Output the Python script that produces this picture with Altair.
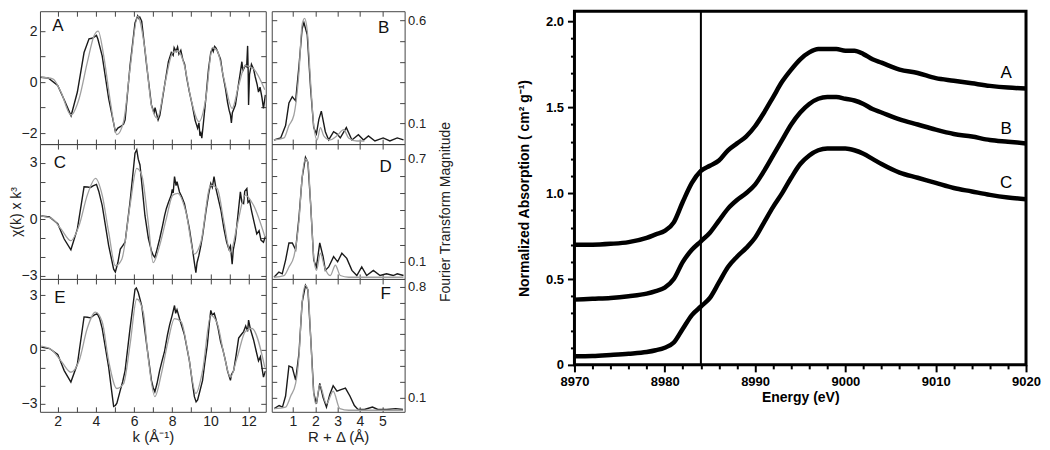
import altair as alt
import pandas as pd

FONT = "Liberation Sans"
BLACK = "#1a1a1a"
GRAY = "#a0a0a0"
FRAME = "#444444"

# ---------------- EXAFS k-space (k in 1/A, chi(k)*k^3) ----------------
A_data = [(1.1,0.19),(1.5,0.16),(2.0,-0.13),(2.35,-0.71),(2.7,-1.32),(3.03,-0.39),(3.38,1.16),(3.64,1.70),(3.8,1.72),(3.9,1.76),(4.03,1.83),(4.1,1.70),(4.33,1.03),(4.67,-0.65),(5.02,-1.94),(5.15,-1.80),(5.3,-1.74),(5.45,-1.65),(5.53,-1.48),(5.79,0.65),(6.05,2.32),(6.19,2.6),(6.25,2.5),(6.3,2.55),(6.4,2.39),(6.66,0.65),(6.91,-0.9),(7.05,-1.2),(7.1,-1.0),(7.26,-1.48),(7.35,-1.3),(7.6,-0.13),(7.8,0.8),(7.95,1.16),(8.05,1.05),(8.1,1.35),(8.2,1.2),(8.28,1.38),(8.35,1.1),(8.45,1.25),(8.55,0.9),(8.65,0.7),(8.75,0.2),(8.9,-0.39),(9.05,-0.9),(9.2,-1.5),(9.33,-1.81),(9.4,-1.6),(9.45,-2.1),(9.5,-2.0),(9.55,-2.2),(9.62,-1.7),(9.76,-0.65),(9.9,0.5),(10.02,1.16),(10.1,1.3),(10.15,1.2),(10.22,1.4),(10.28,1.35),(10.35,1.25),(10.45,1.05),(10.53,0.9),(10.65,0.3),(10.79,-0.26),(10.9,-0.8),(10.98,-1.1),(11.05,-1.29),(11.1,-1.6),(11.15,-1.2),(11.31,-0.9),(11.45,-0.2),(11.57,0.39),(11.65,0.8),(11.7,0.45),(11.83,0.65),(11.9,0.6),(11.95,1.42),(11.98,0.4),(12.0,-0.9),(12.05,0.3),(12.15,0.7),(12.26,0.52),(12.35,0.2),(12.45,-0.1),(12.52,-0.39),(12.6,-0.2),(12.7,-0.6),(12.78,-1.03),(12.88,-0.5)]
A_fit = [(1.14,0.19),(1.74,0.13),(2.17,-0.39),(2.69,-1.29),(3.12,-0.65),(3.55,0.77),(3.9,1.81),(4.12,2.0),(4.41,1.03),(4.76,-0.77),(5.1,-2.06),(5.45,-1.55),(5.79,0.52),(6.19,2.58),(6.57,1.29),(6.91,-0.9),(7.22,-1.42),(7.6,-0.13),(8.03,1.16),(8.29,1.23),(8.64,0.65),(8.98,-0.65),(9.41,-1.55),(9.76,-0.65),(10.1,1.35),(10.36,1.23),(10.71,0.13),(11.14,-1.03),(11.48,-0.13),(11.83,0.65),(12.26,0.52),(12.85,-0.3)]

C_data = [(1.14,0.18),(1.57,0.13),(2.0,-0.23),(2.34,-1.04),(2.69,-1.61),(3.03,-0.5),(3.38,1.73),(3.55,1.72),(3.72,1.70),(3.85,1.78),(4.03,1.86),(4.15,1.5),(4.33,0.75),(4.67,-1.39),(4.93,-2.64),(5.02,-2.79),(5.15,-2.3),(5.28,-1.57),(5.4,-1.4),(5.53,-1.21),(5.79,0.93),(6.05,3.52),(6.14,3.7),(6.22,3.2),(6.31,2.89),(6.57,0.21),(6.75,-1.0),(6.91,-1.66),(7.0,-1.9),(7.09,-2.02),(7.2,-1.6),(7.34,-1.04),(7.5,-0.3),(7.6,0.2),(7.69,0.57),(7.8,0.9),(7.95,1.29),(8.0,1.6),(8.05,1.4),(8.12,2.27),(8.2,1.8),(8.25,2.0),(8.38,1.46),(8.5,1.2),(8.64,0.84),(8.75,0.3),(8.9,-0.5),(9.05,-1.5),(9.16,-2.29),(9.24,-2.82),(9.3,-2.3),(9.4,-1.9),(9.5,-1.39),(9.6,-0.8),(9.76,0.39),(9.9,1.3),(10.02,1.91),(10.1,1.7),(10.19,2.27),(10.3,1.6),(10.45,0.93),(10.55,0.5),(10.71,-0.5),(10.85,-1.2),(10.97,-1.57),(11.05,-1.4),(11.14,-2.38),(11.2,-1.6),(11.31,-1.04),(11.45,0.3),(11.57,1.46),(11.65,0.9),(11.74,0.84),(11.8,1.5),(11.91,1.64),(11.97,0.9),(12.05,1.0),(12.17,0.39),(12.3,-0.2),(12.43,-0.77),(12.55,-0.6),(12.65,-1.1),(12.78,-1.21),(12.88,-0.9)]
C_fit = [(1.14,0.18),(1.66,0.07),(2.17,-0.5),(2.69,-1.13),(3.12,-0.32),(3.55,1.29),(3.98,2.18),(4.33,1.29),(4.67,-0.68),(5.02,-2.46),(5.36,-2.11),(5.79,0.75),(6.14,2.71),(6.4,2.36),(6.74,-0.14),(7.0,-2.29),(7.34,-1.39),(7.69,0.04),(8.03,1.29),(8.29,1.38),(8.72,0.39),(9.16,-1.84),(9.5,-1.21),(10.02,1.82),(10.36,1.64),(10.71,-0.14),(11.05,-1.75),(11.4,-0.32),(11.83,1.29),(12.26,0.75),(12.85,-0.9)]

E_data = [(1.14,0.13),(1.57,0.05),(2.0,-0.27),(2.34,-1.17),(2.69,-1.8),(3.03,-0.81),(3.38,1.8),(3.55,1.78),(3.72,1.75),(3.9,1.9),(4.07,1.98),(4.2,1.7),(4.33,1.17),(4.67,-0.99),(4.85,-2.5),(4.93,-3.15),(5.02,-3.1),(5.1,-2.97),(5.28,-2.25),(5.4,-1.8),(5.53,-1.17),(5.79,1.17),(6.05,3.33),(6.12,3.4),(6.22,3.15),(6.4,2.43),(6.66,0.27),(6.91,-1.71),(7.0,-2.1),(7.09,-2.34),(7.2,-1.9),(7.34,-1.17),(7.45,-0.7),(7.6,-0.09),(7.75,0.8),(7.86,1.35),(8.0,1.9),(8.12,2.43),(8.18,2.0),(8.25,2.2),(8.38,1.71),(8.5,1.3),(8.64,0.81),(8.75,0.2),(8.9,-0.63),(9.05,-1.8),(9.16,-2.61),(9.25,-2.9),(9.33,-2.79),(9.45,-2.3),(9.59,-1.71),(9.7,-0.8),(9.84,0.27),(9.95,1.5),(10.02,2.16),(10.1,1.9),(10.2,2.0),(10.28,1.71),(10.4,1.2),(10.53,0.45),(10.65,0.0),(10.79,-0.63),(10.9,-1.2),(11.05,-1.71),(11.1,-1.4),(11.22,-1.17),(11.35,-0.3),(11.48,0.63),(11.6,0.8),(11.74,0.99),(11.85,1.3),(11.95,1.0),(12.0,1.62),(12.1,1.1),(12.26,0.54),(12.4,-0.1),(12.52,-0.63),(12.62,-0.4),(12.7,-1.0),(12.78,-1.53),(12.88,-1.2)]
E_fit = [(1.14,0.18),(1.66,0.0),(2.17,-0.63),(2.69,-1.26),(3.12,-0.63),(3.55,1.17),(3.98,2.07),(4.33,1.53),(4.67,-0.63),(5.1,-2.16),(5.45,-1.89),(5.79,0.27),(6.14,2.79),(6.48,2.07),(6.74,-0.45),(7.09,-2.61),(7.43,-1.35),(7.78,0.45),(8.12,1.71),(8.47,1.53),(8.81,-0.09),(9.24,-2.43),(9.59,-1.17),(10.02,1.89),(10.36,1.44),(10.71,-0.27),(11.05,-1.53),(11.4,-0.45),(11.83,0.99),(12.17,1.17),(12.85,-0.99)]

# ---------------- Fourier transforms (R + delta in A, magnitude) ----------------
B_data = [(0.15,0.02),(0.45,0.03),(0.67,0.09),(0.82,0.20),(0.97,0.23),(1.12,0.21),(1.27,0.38),(1.41,0.56),(1.49,0.59),(1.64,0.53),(1.79,0.27),(1.93,0.08),(2.05,0.05),(2.16,0.12),(2.27,0.16),(2.45,0.06),(2.6,0.02),(2.82,0.06),(2.97,0.05),(3.12,0.03),(3.39,0.08),(3.64,0.02),(3.93,0.045),(4.16,0.02),(4.38,0.04),(4.67,0.015),(5.04,0.03),(5.34,0.015),(5.67,0.03),(5.95,0.02)]
B_fit = [(0.15,0.02),(0.6,0.03),(0.82,0.09),(1.04,0.14),(1.27,0.35),(1.41,0.58),(1.52,0.61),(1.64,0.55),(1.79,0.30),(1.93,0.09),(2.08,0.02),(2.23,0.08),(2.38,0.04),(2.67,0.02),(2.97,0.04),(3.27,0.07),(3.49,0.03),(3.86,0.015),(4.2,0.015)]

D_data = [(0.15,0.01),(0.37,0.04),(0.52,0.03),(0.67,0.11),(0.82,0.21),(0.97,0.21),(1.12,0.17),(1.27,0.36),(1.41,0.59),(1.56,0.71),(1.67,0.68),(1.79,0.44),(1.93,0.11),(2.05,0.07),(2.2,0.21),(2.35,0.13),(2.45,0.05),(2.6,0.07),(2.82,0.13),(3.0,0.10),(3.19,0.15),(3.41,0.12),(3.64,0.05),(3.86,0.02),(4.08,0.07),(4.3,0.02),(4.6,0.05),(4.9,0.02),(5.19,0.03),(5.49,0.02),(5.67,0.03),(5.95,0.02)]
D_fit = [(0.15,0.01),(0.6,0.02),(0.82,0.07),(1.04,0.13),(1.27,0.34),(1.41,0.59),(1.56,0.70),(1.67,0.68),(1.79,0.44),(1.93,0.13),(2.05,0.05),(2.23,0.15),(2.41,0.07),(2.67,0.02),(2.9,0.08),(3.12,0.02),(3.5,0.01),(4.0,0.01),(5.0,0.01),(5.95,0.01)]

F_data = [(0.16,0.03),(0.38,0.05),(0.53,0.04),(0.67,0.11),(0.82,0.30),(0.97,0.29),(1.12,0.21),(1.27,0.38),(1.41,0.70),(1.56,0.81),(1.67,0.78),(1.79,0.49),(1.93,0.13),(2.05,0.06),(2.2,0.19),(2.35,0.10),(2.5,0.04),(2.65,0.12),(2.8,0.175),(2.97,0.14),(3.15,0.15),(3.35,0.16),(3.55,0.11),(3.75,0.05),(3.9,0.027),(4.2,0.025),(4.56,0.04),(4.8,0.025),(5.2,0.025),(5.6,0.03),(5.93,0.025)]
F_fit = [(0.16,0.03),(0.67,0.04),(0.9,0.11),(1.12,0.19),(1.27,0.36),(1.41,0.70),(1.56,0.81),(1.67,0.78),(1.79,0.49),(1.93,0.13),(2.03,0.06),(2.2,0.18),(2.5,0.06),(2.8,0.14),(3.1,0.03),(3.5,0.02),(4.5,0.02),(5.93,0.02)]

# ---------------- XANES ----------------
XANES_E = [8970,8972,8974,8976,8978,8979,8980,8981,8982,8983,8984,8985,8986,8987,8988,8989,8990,8991,8992,8993,8994,8995,8996,8997,8998,8999,9000,9001,9002,9003,9004,9006,9008,9010,9012,9014,9016,9018,9020]
XANES_A = [0.70,0.70,0.705,0.715,0.74,0.76,0.78,0.83,0.95,1.06,1.13,1.16,1.19,1.25,1.29,1.33,1.39,1.47,1.56,1.65,1.72,1.78,1.82,1.84,1.84,1.84,1.83,1.83,1.81,1.78,1.76,1.72,1.70,1.67,1.655,1.64,1.625,1.615,1.61]
XANES_B = [0.38,0.385,0.39,0.40,0.415,0.43,0.45,0.50,0.60,0.67,0.72,0.77,0.84,0.91,0.96,1.00,1.05,1.13,1.22,1.31,1.40,1.47,1.52,1.55,1.56,1.56,1.55,1.54,1.52,1.49,1.47,1.43,1.40,1.37,1.345,1.33,1.31,1.30,1.29]
XANES_C = [0.05,0.052,0.058,0.065,0.075,0.085,0.10,0.13,0.21,0.29,0.34,0.39,0.48,0.57,0.63,0.68,0.74,0.83,0.92,1.00,1.09,1.17,1.22,1.25,1.26,1.26,1.26,1.25,1.23,1.20,1.17,1.12,1.09,1.06,1.03,1.01,0.99,0.975,0.965]
XANES_NAMES = ["A", "B", "C"]
XANES_LABEL_E = [9017.8, 9017.8, 9017.8]
XANES_LABEL_MU = [1.70, 1.375, 1.06]
EDGE_E = 8984
E_MAJOR = [8970, 8980, 8990, 9000, 9010, 9020]
E_MINOR = [8972,8974,8976,8978,8982,8984,8986,8988,8992,8994,8996,8998,9002,9004,9006,9008,9012,9014,9016,9018]
MU_MAJOR = [0, 0.5, 1.0, 1.5, 2.0]
MU_MINOR = [0.1,0.2,0.3,0.4,0.6,0.7,0.8,0.9,1.1,1.2,1.3,1.4,1.6,1.7,1.8,1.9]

K_TICKS = [1,2,3,4,5,6,7,8,9,10,11,12]
R_TICKS = [1,2,3,4,5]
T = 5  # inner tick length


def inner_axis(orient, values, labels=False, test=None, title=None, fmt=None,
               fsize=14, title_size=15, title_pad=4, title_angle=None, title_baseline=None):
    kw = dict(orient=orient, values=values, tickSize=T, offset=-T, domain=False,
              grid=False, tickColor=FRAME, tickWidth=1, labels=labels,
              labelFont=FONT, labelFontSize=fsize, labelColor="#222222",
              labelPadding=3, labelOverlap=False, labelFlush=False, title=title)
    if test:
        kw["labelExpr"] = f"({test}) ? datum.label : ''"
    if fmt:
        kw["format"] = fmt
    if title:
        kw.update(titleFont=FONT, titleFontSize=title_size, titleFontWeight="normal",
                  titleColor="#222222", titlePadding=title_pad)
        if title_angle is not None:
            kw["titleAngle"] = title_angle
        if title_baseline:
            kw["titleBaseline"] = title_baseline
    return alt.Axis(**kw)


def panel(data, fit, letter, xdom, ydom, xticks, yticks, w, h, letter_x, letter_y,
          x_labels=False, x_test=None, x_title=None,
          y_side="left", y_test=None, y_title=None, y_fmt=None, y_fsize=14, y_title_pad=-2):
    dd = pd.DataFrame(data, columns=["x", "y"])
    ff = pd.DataFrame(fit, columns=["x", "y"])
    xs = alt.Scale(domain=xdom, nice=False, zero=False)
    ys = alt.Scale(domain=ydom, nice=False, zero=False)
    other = "right" if y_side == "left" else "left"
    main = alt.Chart(dd).mark_line(color=BLACK, strokeWidth=1.4, clip=True).encode(
        x=alt.X("x:Q", scale=xs, axis=inner_axis("bottom", xticks, labels=x_labels, test=x_test,
                                                 title=x_title, fsize=14, title_size=15, title_pad=1)),
        y=alt.Y("y:Q", scale=ys, axis=inner_axis(y_side, yticks, labels=True, test=y_test,
                                                 title=y_title, fmt=y_fmt, fsize=y_fsize,
                                                 title_size=14, title_pad=y_title_pad,
                                                 title_angle=270,
                                                 title_baseline="top" if y_side == "right" else None)),
    )
    fitl = alt.Chart(ff).mark_line(color=GRAY, strokeWidth=1.3, clip=True, interpolate="monotone").encode(
        x=alt.X("x:Q", scale=xs, axis=inner_axis("top", xticks)),
        y=alt.Y("y:Q", scale=ys, axis=inner_axis(other, yticks)),
    )
    lab = alt.Chart(pd.DataFrame({"t": [letter]})).mark_text(
        font=FONT, fontSize=17, color="#111111", align="center", baseline="middle"
    ).encode(x=alt.value(letter_x), y=alt.value(letter_y), text="t:N")
    return alt.layer(main, fitl, lab).resolve_axis(x="independent", y="independent").properties(
        width=w, height=h, view=alt.ViewBackground(stroke=FRAME, strokeWidth=1))


KW, KH = 226, [133, 135, 133]
RW = 133
KDOM = [1.07, 12.9]
RDOM = [0.05, 6.0]

pA = panel(A_data, A_fit, "A", KDOM, [-2.43, 2.78], K_TICKS, [-2, -1, 0, 1, 2], KW, KH[0], 18, 15,
           y_test="datum.value % 2 === 0")
pC = panel(C_data, C_fit, "C", KDOM, [-3.16, 4.0], K_TICKS, [-3, -2, -1, 0, 1, 2, 3], KW, KH[1], 20, 19,
           y_test="datum.value % 3 === 0", y_title="χ(k) x k³")
pE = panel(E_data, E_fit, "E", KDOM, [-3.45, 3.9], K_TICKS, [-3, -2, -1, 0, 1, 2, 3], KW, KH[2], 20, 19,
           y_test="datum.value % 3 === 0", x_labels=True, x_test="datum.value % 2 === 0",
           x_title="k (Å⁻¹)")

pB = panel(B_data, B_fit, "B", RDOM, [0.0, 0.645], R_TICKS, [0.1, 0.2, 0.3, 0.4, 0.5, 0.6], RW, KH[0],
           RW - 21, 17, y_side="right", y_test="datum.value < 0.15 || datum.value > 0.55",
           y_fmt=".1f", y_fsize=13)
pD = panel(D_data, D_fit, "D", RDOM, [0.0, 0.787], R_TICKS, [0.1, 0.2, 0.3, 0.4, 0.5, 0.6, 0.7], RW, KH[1],
           RW - 19, 23, y_side="right", y_test="datum.value < 0.15 || datum.value > 0.65",
           y_fmt=".1f", y_fsize=13, y_title="Fourier Transform Magnitude", y_title_pad=13)
pF = panel(F_data, F_fit, "F", RDOM, [0.01, 0.85], R_TICKS, [0.1, 0.2, 0.3, 0.4, 0.5, 0.6, 0.7, 0.8], RW, KH[2],
           RW - 19, 15, y_side="right", y_test="datum.value < 0.15 || datum.value > 0.75",
           y_fmt=".1f", y_fsize=13, x_labels=True, x_title="R + Δ (Å)")

left_col = alt.vconcat(pA, pC, pE, spacing=0, bounds="flush")
right_col = alt.vconcat(pB, pD, pF, spacing=0, bounds="flush")

# XANES
rows = []
for name, vals in zip(XANES_NAMES, [XANES_A, XANES_B, XANES_C]):
    for e, v in zip(XANES_E, vals):
        rows.append({"E": e, "mu": v, "curve": name})
xdf = pd.DataFrame(rows)
ldf = pd.DataFrame({"E": XANES_LABEL_E, "mu": XANES_LABEL_MU, "t": XANES_NAMES})

ex = alt.Scale(domain=[8970, 9020], nice=False, zero=False)
ey = alt.Scale(domain=[0, 2.06], nice=False, zero=False)

common = dict(tickColor="black", tickWidth=2, domain=False, grid=False,
              labelFont=FONT, labelFontSize=13, labelFontWeight="bold", labelColor="black",
              labelPadding=4, labelOverlap=False, labelFlush=False,
              titleFont=FONT, titleFontSize=14, titleFontWeight="bold", titleColor="black")
x_major = alt.Axis(orient="bottom", values=E_MAJOR, title="Energy (eV)", format="d", tickSize=7,
                   titlePadding=2, **common)
y_major = alt.Axis(orient="left", values=MU_MAJOR, title="Normalized Absorption ( cm² g⁻¹)",
                   labelExpr="datum.value === 0 ? '0' : format(datum.value, '.1f')", tickSize=7,
                   titlePadding=14, **common)
x_minor = alt.Axis(orient="bottom", values=E_MINOR, title=None, labels=False, tickSize=4,
                   tickColor="black", tickWidth=2, domain=False, grid=False)
y_minor = alt.Axis(orient="left", values=MU_MINOR, title=None, labels=False, tickSize=4,
                   tickColor="black", tickWidth=2, domain=False, grid=False)

curves = alt.Chart(xdf).mark_line(color="black", strokeWidth=4.5, interpolate="monotone").encode(
    x=alt.X("E:Q", scale=ex, axis=x_major), y=alt.Y("mu:Q", scale=ey, axis=y_major), detail="curve:N")
minor = alt.Chart(xdf).mark_point(opacity=0).encode(
    x=alt.X("E:Q", scale=ex, axis=x_minor), y=alt.Y("mu:Q", scale=ey, axis=y_minor))
edge = alt.Chart(pd.DataFrame({"E": [EDGE_E]})).mark_rule(color="black", strokeWidth=2).encode(
    x=alt.X("E:Q", scale=ex, axis=None))
labels = alt.Chart(ldf).mark_text(font=FONT, fontSize=17, color="black", align="center",
                                  baseline="middle").encode(
    x=alt.X("E:Q", scale=ex, axis=None), y=alt.Y("mu:Q", scale=ey, axis=None), text="t:N")
xanes = alt.layer(curves, minor, edge, labels).resolve_axis(x="independent", y="independent").properties(
    width=452, height=354, view=alt.ViewBackground(stroke="black", strokeWidth=3))

chart = alt.hconcat(alt.hconcat(left_col, right_col, spacing=4), xanes, spacing=62).properties(padding=0)
chart = chart.configure(font=FONT)

chart.save("out.html", embed_options={"renderer": "svg", "actions": False})
